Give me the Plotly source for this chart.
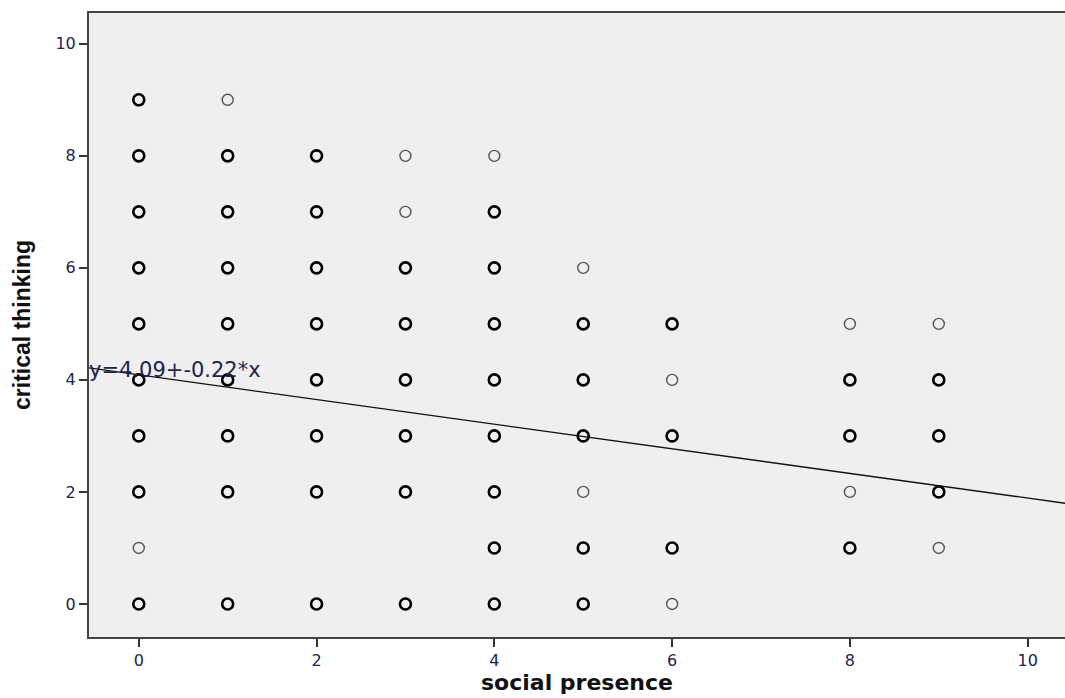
import plotly.graph_objects as go

# observed points (social presence, critical thinking); weight: 1 = single, 2 = overlapping
sp_x = [0,0,0,0,0,0,0,0,0,0,
        1,1,1,1,1,1,1,1,1,
        2,2,2,2,2,2,2,2,
        3,3,3,3,3,3,3,3,
        4,4,4,4,4,4,4,4,4,
        5,5,5,5,5,5,5,
        6,6,6,6,6,
        8,8,8,8,8,
        9,9,9,9,9]
ct_y = [9,8,7,6,5,4,3,2,1,0,
        9,8,7,6,5,4,3,2,0,
        8,7,6,5,4,3,2,0,
        8,7,6,5,4,3,2,0,
        8,7,6,5,4,3,2,1,0,
        6,5,4,3,2,1,0,
        5,4,3,1,0,
        5,4,3,2,1,
        5,4,3,2,1]
weight = [2,2,2,2,2,2,2,2,1,2,
          1,2,2,2,2,2,2,2,2,
          2,2,2,2,2,2,2,2,
          1,1,2,2,2,2,2,2,
          1,2,2,2,2,2,2,2,2,
          1,2,2,2,1,2,2,
          2,1,2,2,1,
          1,2,2,1,2,
          1,2,2,2,1]

intercept = 4.09
slope = -0.22
x_range = [-0.56, 10.42]
y_range = [-0.59, 10.55]
x_ticks = [0, 2, 4, 6, 8, 10]
y_ticks = [0, 2, 4, 6, 8, 10]

fig = go.Figure()

for w, col, lw in [(1, "#555555", 1.4), (2, "#000000", 2.6)]:
    xs = [x for x, ww in zip(sp_x, weight) if ww == w]
    ys = [y for y, ww in zip(ct_y, weight) if ww == w]
    fig.add_trace(go.Scatter(
        x=xs, y=ys, mode="markers",
        marker=dict(symbol="circle-open", size=11, color=col, line=dict(width=lw, color=col)),
        showlegend=False, hoverinfo="skip"))

fig.add_trace(go.Scatter(
    x=x_range, y=[intercept + slope * v for v in x_range],
    mode="lines", line=dict(color="#111111", width=1.3),
    showlegend=False, hoverinfo="skip"))

fig.add_annotation(
    x=0, xref="paper", y=4.18, yref="y", xanchor="left", yanchor="middle",
    text=f"y={intercept:.2f}+{slope:.2f}*x", showarrow=False, xshift=-2,
    font=dict(family="DejaVu Sans", size=21, color="#1c2450"))

axis_common = dict(
    showgrid=False, zeroline=False, showline=True, linecolor="#444444", linewidth=2,
    ticks="outside", ticklen=8, tickwidth=2, tickcolor="#333333",
    tickfont=dict(family="DejaVu Sans", size=16, color="#1c2450"))

fig.update_xaxes(range=x_range, tickvals=x_ticks, mirror=True,
                 title=dict(text="social presence", standoff=4,
                            font=dict(family="DejaVu Sans", size=22, color="#111111", weight="bold")),
                 **axis_common)
fig.update_yaxes(range=y_range, tickvals=y_ticks,
                 title=dict(text="critical thinking", standoff=18,
                            font=dict(family="Liberation Sans", size=23, color="#111111", weight="bold")),
                 **axis_common)

fig.update_layout(
    width=1065, height=698,
    margin=dict(l=89, r=0, t=13, b=61, autoexpand=False),
    plot_bgcolor="#efefef", paper_bgcolor="#ffffff")

fig.write_html("out.html", config={"displayModeBar": False},
               post_script="document.body.style.margin='0';document.body.style.overflow='hidden';")
